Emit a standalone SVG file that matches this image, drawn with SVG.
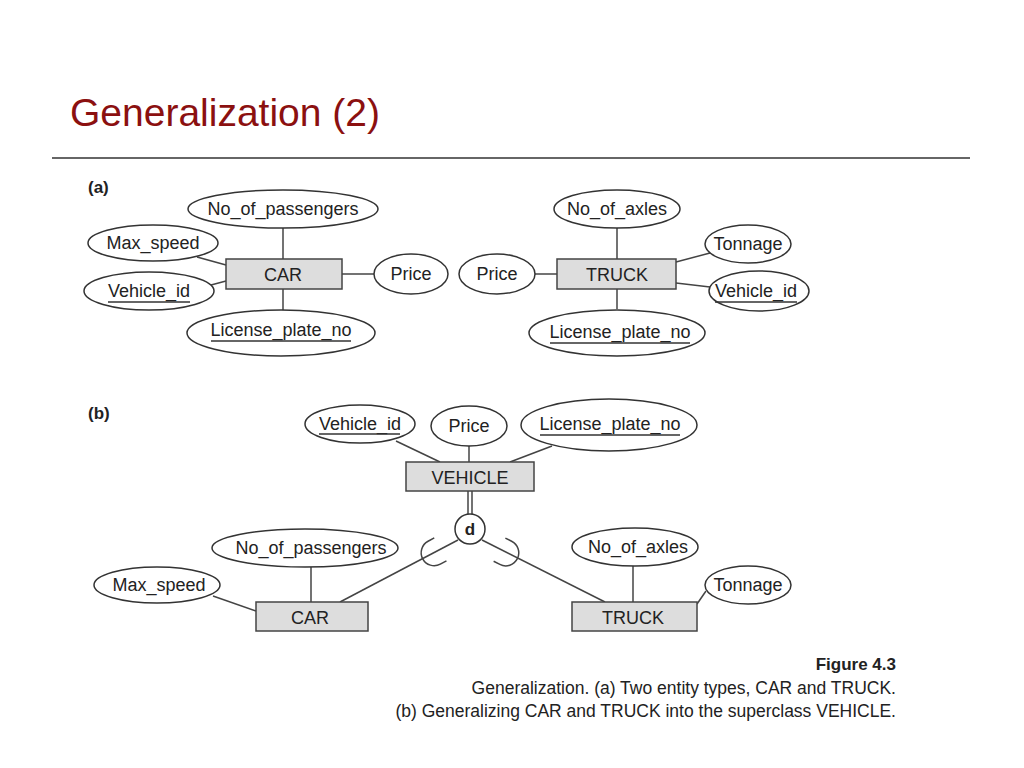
<svg xmlns="http://www.w3.org/2000/svg" width="1024" height="768" viewBox="0 0 1024 768">
<style>
text{font-family:"Liberation Sans",Arial,sans-serif;fill:#222}
.t{font-size:18px;text-anchor:middle}
.e{fill:#fff;stroke:#333;stroke-width:1.5}
.r{fill:#ddd;stroke:#444;stroke-width:1.5}
.l{stroke:#444;stroke-width:1.5;fill:none}
.u{stroke:#333;stroke-width:1.3}
.cap{font-size:17.5px;text-anchor:end}
</style>
<rect width="1024" height="768" fill="#fff"/>
<text x="70" y="126" style="font-size:39px;fill:#8b1010">Generalization (2)</text>
<line x1="52" y1="158" x2="970" y2="158" stroke="#333" stroke-width="1.5"/>
<text x="88" y="193" style="font-size:17px;font-weight:bold">(a)</text>
<text x="88" y="419" style="font-size:17px;font-weight:bold">(b)</text>
<g id="connectors" class="l">
<line x1="283" y1="228" x2="283" y2="259"/><line x1="283" y1="289" x2="283" y2="310"/>
<line x1="197" y1="257" x2="226" y2="265"/><line x1="211" y1="285" x2="226" y2="281"/>
<line x1="342" y1="274" x2="374" y2="274"/>
<line x1="617" y1="228" x2="617" y2="259"/><line x1="617" y1="289" x2="617" y2="309"/>
<line x1="535" y1="274" x2="557" y2="274"/><line x1="710" y1="253" x2="676" y2="262"/>
<line x1="710" y1="287" x2="676" y2="283"/>
<line x1="396" y1="441" x2="440" y2="462"/><line x1="469" y1="446" x2="469" y2="462"/><line x1="552" y1="446" x2="510" y2="462"/>
<line x1="468" y1="491" x2="468" y2="514"/><line x1="472" y1="491" x2="472" y2="514"/>
<line x1="458" y1="540" x2="340" y2="602"/><line x1="482" y1="540" x2="605" y2="602"/>
<line x1="311" y1="567" x2="311" y2="602"/><line x1="213" y1="596" x2="256" y2="611"/>
<line x1="633" y1="566" x2="633" y2="602"/><line x1="706" y1="591" x2="697" y2="604"/>
<path d="M -14,-13 L -7,-13 A 13 13 0 0 1 -7,13 L -14,13" transform="translate(428,556) rotate(152)"/>
<path d="M -14,-13 L -7,-13 A 13 13 0 0 1 -7,13 L -14,13" transform="translate(512,556) rotate(26.8)"/>
</g>
<g id="car_a"><rect class="r" x="226" y="259" width="116" height="30"/><text class="t" x="283" y="281">CAR</text></g>
<g id="a_nop"><ellipse class="e" cx="283" cy="209" rx="95" ry="19"/><text class="t" x="283" y="215">No_of_passengers</text></g>
<g id="a_ms"><ellipse class="e" cx="153" cy="243" rx="65" ry="18"/><text class="t" x="153" y="249">Max_speed</text></g>
<g id="a_vid"><ellipse class="e" cx="149" cy="291" rx="65" ry="19"/><text class="t" x="149" y="297">Vehicle_id</text><line class="u" x1="108" y1="302" x2="190" y2="302"/></g>
<g id="a_lpn"><ellipse class="e" cx="281" cy="333" rx="94" ry="23"/><text class="t" x="281" y="336">License_plate_no</text><line class="u" x1="211" y1="341" x2="351" y2="341"/></g>
<g id="a_price"><ellipse class="e" cx="411" cy="274" rx="37" ry="20"/><text class="t" x="411" y="280">Price</text></g>
<g id="truck_a"><rect class="r" x="557" y="259" width="119" height="30"/><text class="t" x="617" y="281">TRUCK</text></g>
<g id="a_noa"><ellipse class="e" cx="617" cy="209" rx="63" ry="19"/><text class="t" x="617" y="215">No_of_axles</text></g>
<g id="a_ton"><ellipse class="e" cx="748" cy="244" rx="43" ry="19"/><text class="t" x="748" y="250">Tonnage</text></g>
<g id="a_vid2"><ellipse class="e" cx="759" cy="291" rx="50" ry="20"/><text class="t" x="756" y="297">Vehicle_id</text><line class="u" x1="715" y1="302" x2="797" y2="302"/></g>
<g id="a_lpn2"><ellipse class="e" cx="617" cy="333" rx="88" ry="23"/><text class="t" x="620" y="338">License_plate_no</text><line class="u" x1="550" y1="343" x2="690" y2="343"/></g>
<g id="a_price2"><ellipse class="e" cx="497" cy="274" rx="38" ry="20"/><text class="t" x="497" y="280">Price</text></g>
<g id="vehicle"><rect class="r" x="406" y="462" width="128" height="29"/><text class="t" x="470" y="484">VEHICLE</text></g>
<g id="b_vid"><ellipse class="e" cx="360" cy="424" rx="55" ry="19"/><text class="t" x="360" y="430">Vehicle_id</text><line class="u" x1="319" y1="434" x2="400" y2="434"/></g>
<g id="b_price"><ellipse class="e" cx="469" cy="426" rx="38" ry="20"/><text class="t" x="469" y="432">Price</text></g>
<g id="b_lpn"><ellipse class="e" cx="609" cy="425" rx="88" ry="26"/><text class="t" x="610" y="430">License_plate_no</text><line class="u" x1="540" y1="435" x2="680" y2="435"/></g>
<g id="d"><circle class="e" cx="470" cy="529" r="15"/><text x="470" y="535" style="font-size:17px;font-weight:bold;text-anchor:middle">d</text></g>
<g id="car_b"><rect class="r" x="256" y="602" width="112" height="29"/><text class="t" x="310" y="624">CAR</text></g>
<g id="b_nop"><ellipse class="e" cx="305" cy="548" rx="93" ry="19"/><text class="t" x="311" y="554">No_of_passengers</text></g>
<g id="b_ms"><ellipse class="e" cx="157" cy="585" rx="63" ry="18"/><text class="t" x="159" y="591">Max_speed</text></g>
<g id="truck_b"><rect class="r" x="572" y="602" width="125" height="29"/><text class="t" x="633" y="624">TRUCK</text></g>
<g id="b_noa"><ellipse class="e" cx="635" cy="547" rx="63" ry="19"/><text class="t" x="638" y="553">No_of_axles</text></g>
<g id="b_ton"><ellipse class="e" cx="748" cy="585" rx="43" ry="19"/><text class="t" x="748" y="591">Tonnage</text></g>
<text x="896" y="670" style="font-size:17px;font-weight:bold;text-anchor:end">Figure 4.3</text>
<text class="cap" x="896" y="694">Generalization. (a) Two entity types, CAR and TRUCK.</text>
<text class="cap" x="896" y="717">(b) Generalizing CAR and TRUCK into the superclass VEHICLE.</text>
</svg>
